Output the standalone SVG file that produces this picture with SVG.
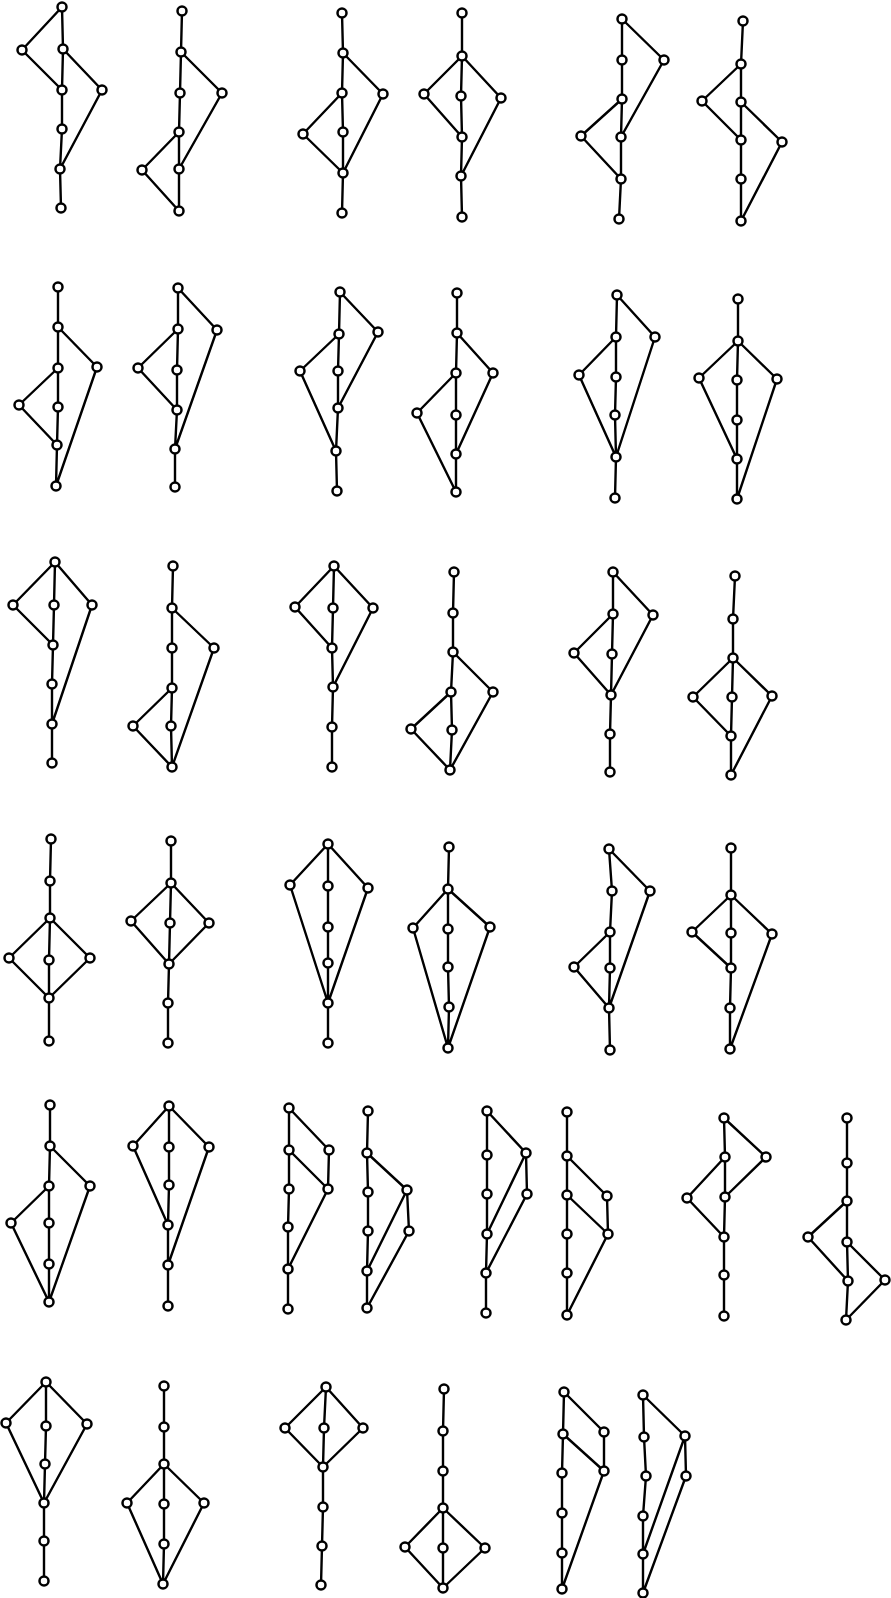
<svg xmlns="http://www.w3.org/2000/svg" width="891" height="1598" viewBox="0 0 891 1598">
<style>
.e{fill:none;stroke:#000;stroke-width:2.4;stroke-linejoin:round;stroke-linecap:round}
.nodes circle{fill:#fff;stroke:#000;stroke-width:2.5}
</style>
<rect width="891" height="1598" fill="#fff"/>
<g id="connectors" class="e">
<path d="M62,7L22,50L62,90 M62,7L63,49L62,90L62,129L60,169L61,208 M63,49L102,90L60,169"/>
<path d="M182,11L181,52L180,93L179,132L179,169L179,211 M181,52L222,93L179,169 M179,132L142,170L179,211"/>
<path d="M342,13L343,53L342,93L343,132L343,173L342,213 M343,53L383,94L343,173 M342,93L303,134L343,173"/>
<path d="M462,13L462,56L461,96L462,137L461,176L462,217 M462,56L424,94L462,137 M462,56L501,98L461,176"/>
<path d="M622,19L622,60L622,99L621,137L621,179L619,219 M622,19L664,60L621,137 M622,99L581,136L621,179"/>
<path d="M743,21L741,64L741,102L741,140L741,179L741,221 M741,64L702,101L741,140 M741,102L782,142L741,221"/>
<path d="M58,287L58,327L58,368L58,407L57,445L56,486 M58,327L97,367L56,486 M58,368L19,405L57,445"/>
<path d="M178,288L178,329L177,370L177,410L175,449L175,487 M178,288L217,330L175,449 M178,329L138,368L177,410"/>
<path d="M340,292L339,334L338,371L338,408L336,451L337,491 M340,292L378,332L338,408 M339,334L300,371L336,451"/>
<path d="M457,293L457,333L456,373L456,415L456,454L456,492 M457,333L493,373L456,454 M456,373L417,413L456,492"/>
<path d="M617,295L616,337L616,377L615,415L616,457L615,498 M617,295L655,337L616,457 M616,337L579,375L616,457"/>
<path d="M738,299L738,341L737,380L737,420L737,459L737,499 M738,341L699,378L737,459 M738,341L777,379L737,499"/>
<path d="M55,562L54,605L53,645L52,684L52,724L52,763 M55,562L13,605L53,645 M55,562L92,605L52,724"/>
<path d="M173,566L172,608L172,648L172,688L171,726L172,767 M172,608L214,648L172,767 M172,688L133,726L172,767"/>
<path d="M334,566L333,608L332,648L333,687L332,727L332,767 M334,566L295,607L332,648 M334,566L373,608L333,687"/>
<path d="M454,572L453,613L453,652L451,692L452,730L450,770 M453,652L493,692L450,770 M451,692L411,729L450,770"/>
<path d="M613,572L613,614L612,654L611,695L610,734L610,772 M613,572L653,615L611,695 M613,614L574,653L611,695"/>
<path d="M735,576L733,619L733,658L732,697L731,736L731,775 M733,658L693,697L731,736 M733,658L772,696L731,775"/>
<path d="M51,839L50,881L50,918L49,960L49,998L49,1041 M50,918L9,958L49,998 M50,918L90,958L49,998"/>
<path d="M171,841L171,883L170,923L169,964L168,1003L168,1043 M171,883L131,921L169,964 M171,883L209,923L169,964"/>
<path d="M328,844L328,886L328,927L328,963L328,1003L328,1043 M328,844L290,885L328,1003 M328,844L368,888L328,1003"/>
<path d="M449,847L448,889L448,929L448,967L449,1007L448,1048 M448,889L413,928L448,1048 M448,889L490,927L448,1048"/>
<path d="M609,849L612,891L610,932L610,968L609,1008L610,1050 M609,849L650,891L609,1008 M610,932L574,967L609,1008"/>
<path d="M731,848L731,895L731,933L731,968L730,1008L730,1049 M731,895L692,932L731,968 M731,895L772,934L730,1049"/>
<path d="M50,1105L50,1146L49,1186L49,1223L49,1264L49,1302 M50,1146L90,1186L49,1302 M49,1186L11,1223L49,1302"/>
<path d="M169,1106L169,1147L169,1185L168,1225L168,1265L168,1306 M169,1106L133,1146L168,1225 M169,1106L209,1147L168,1265"/>
<path d="M289,1108L289,1150L289,1189L288,1227L288,1269L288,1309 M289,1108L329,1150L328,1189L288,1269 M289,1150L328,1189"/>
<path d="M368,1111L367,1153L368,1192L368,1231L367,1271L367,1308 M367,1153L407,1190L409,1231L367,1308 M407,1190L367,1271"/>
<path d="M487,1111L487,1155L487,1194L487,1234L486,1273L486,1313 M487,1111L526,1153L527,1194L486,1273 M526,1153L487,1234"/>
<path d="M567,1112L567,1156L567,1195L567,1234L567,1273L567,1315 M567,1156L607,1196L608,1234L567,1315 M567,1195L608,1234"/>
<path d="M724,1118L725,1157L725,1197L724,1237L724,1275L724,1316 M724,1118L766,1157L725,1197 M725,1157L687,1198L724,1237"/>
<path d="M847,1118L847,1163L847,1201L847,1242L848,1281L846,1320 M847,1201L808,1237L848,1281 M847,1242L885,1280L846,1320"/>
<path d="M46,1382L46,1426L45,1464L44,1503L44,1541L44,1581 M46,1382L6,1423L44,1503 M46,1382L87,1424L44,1503"/>
<path d="M164,1386L164,1427L164,1464L164,1504L164,1544L163,1584 M164,1464L127,1503L163,1584 M164,1464L204,1503L163,1584"/>
<path d="M326,1387L324,1428L323,1467L323,1507L322,1546L321,1585 M326,1387L285,1428L323,1467 M326,1387L363,1428L323,1467"/>
<path d="M444,1389L443,1431L443,1471L443,1508L443,1548L443,1588 M443,1508L405,1547L443,1588 M443,1508L485,1548L443,1588"/>
<path d="M564,1392L563,1434L562,1473L562,1513L562,1553L562,1589 M564,1392L604,1432L604,1471L562,1589 M563,1434L604,1471"/>
<path d="M643,1395L644,1437L646,1476L643,1516L643,1554L643,1593 M643,1395L685,1436L686,1476L643,1593 M685,1436L643,1554"/>
</g>
<g class="nodes">
<g id="L1"><circle id="L1a" cx="62" cy="7" r="4.5"/><circle id="L1b" cx="22" cy="50" r="4.5"/><circle id="L1c" cx="63" cy="49" r="4.5"/><circle id="L1d" cx="62" cy="90" r="4.5"/><circle id="L1e" cx="102" cy="90" r="4.5"/><circle id="L1f" cx="62" cy="129" r="4.5"/><circle id="L1g" cx="60" cy="169" r="4.5"/><circle id="L1h" cx="61" cy="208" r="4.5"/></g>
<g id="L2"><circle id="L2a" cx="182" cy="11" r="4.5"/><circle id="L2b" cx="181" cy="52" r="4.5"/><circle id="L2c" cx="180" cy="93" r="4.5"/><circle id="L2d" cx="222" cy="93" r="4.5"/><circle id="L2e" cx="179" cy="132" r="4.5"/><circle id="L2f" cx="142" cy="170" r="4.5"/><circle id="L2g" cx="179" cy="169" r="4.5"/><circle id="L2h" cx="179" cy="211" r="4.5"/></g>
<g id="L3"><circle id="L3a" cx="342" cy="13" r="4.5"/><circle id="L3b" cx="343" cy="53" r="4.5"/><circle id="L3c" cx="342" cy="93" r="4.5"/><circle id="L3d" cx="383" cy="94" r="4.5"/><circle id="L3e" cx="303" cy="134" r="4.5"/><circle id="L3f" cx="343" cy="132" r="4.5"/><circle id="L3g" cx="343" cy="173" r="4.5"/><circle id="L3h" cx="342" cy="213" r="4.5"/></g>
<g id="L4"><circle id="L4a" cx="462" cy="13" r="4.5"/><circle id="L4b" cx="462" cy="56" r="4.5"/><circle id="L4c" cx="424" cy="94" r="4.5"/><circle id="L4d" cx="461" cy="96" r="4.5"/><circle id="L4e" cx="501" cy="98" r="4.5"/><circle id="L4f" cx="462" cy="137" r="4.5"/><circle id="L4g" cx="461" cy="176" r="4.5"/><circle id="L4h" cx="462" cy="217" r="4.5"/></g>
<g id="L5"><circle id="L5a" cx="622" cy="19" r="4.5"/><circle id="L5b" cx="622" cy="60" r="4.5"/><circle id="L5c" cx="664" cy="60" r="4.5"/><circle id="L5d" cx="622" cy="99" r="4.5"/><circle id="L5e" cx="581" cy="136" r="4.5"/><circle id="L5f" cx="621" cy="137" r="4.5"/><circle id="L5g" cx="621" cy="179" r="4.5"/><circle id="L5h" cx="619" cy="219" r="4.5"/></g>
<g id="L6"><circle id="L6a" cx="743" cy="21" r="4.5"/><circle id="L6b" cx="741" cy="64" r="4.5"/><circle id="L6c" cx="702" cy="101" r="4.5"/><circle id="L6d" cx="741" cy="102" r="4.5"/><circle id="L6e" cx="741" cy="140" r="4.5"/><circle id="L6f" cx="782" cy="142" r="4.5"/><circle id="L6g" cx="741" cy="179" r="4.5"/><circle id="L6h" cx="741" cy="221" r="4.5"/></g>
<g id="L7"><circle id="L7a" cx="58" cy="287" r="4.5"/><circle id="L7b" cx="58" cy="327" r="4.5"/><circle id="L7c" cx="58" cy="368" r="4.5"/><circle id="L7d" cx="97" cy="367" r="4.5"/><circle id="L7e" cx="19" cy="405" r="4.5"/><circle id="L7f" cx="58" cy="407" r="4.5"/><circle id="L7g" cx="57" cy="445" r="4.5"/><circle id="L7h" cx="56" cy="486" r="4.5"/></g>
<g id="L8"><circle id="L8a" cx="178" cy="288" r="4.5"/><circle id="L8b" cx="178" cy="329" r="4.5"/><circle id="L8c" cx="217" cy="330" r="4.5"/><circle id="L8d" cx="138" cy="368" r="4.5"/><circle id="L8e" cx="177" cy="370" r="4.5"/><circle id="L8f" cx="177" cy="410" r="4.5"/><circle id="L8g" cx="175" cy="449" r="4.5"/><circle id="L8h" cx="175" cy="487" r="4.5"/></g>
<g id="L9"><circle id="L9a" cx="340" cy="292" r="4.5"/><circle id="L9b" cx="339" cy="334" r="4.5"/><circle id="L9c" cx="378" cy="332" r="4.5"/><circle id="L9d" cx="300" cy="371" r="4.5"/><circle id="L9e" cx="338" cy="371" r="4.5"/><circle id="L9f" cx="338" cy="408" r="4.5"/><circle id="L9g" cx="336" cy="451" r="4.5"/><circle id="L9h" cx="337" cy="491" r="4.5"/></g>
<g id="L10"><circle id="L10a" cx="457" cy="293" r="4.5"/><circle id="L10b" cx="457" cy="333" r="4.5"/><circle id="L10c" cx="456" cy="373" r="4.5"/><circle id="L10d" cx="493" cy="373" r="4.5"/><circle id="L10e" cx="417" cy="413" r="4.5"/><circle id="L10f" cx="456" cy="415" r="4.5"/><circle id="L10g" cx="456" cy="454" r="4.5"/><circle id="L10h" cx="456" cy="492" r="4.5"/></g>
<g id="L11"><circle id="L11a" cx="617" cy="295" r="4.5"/><circle id="L11b" cx="616" cy="337" r="4.5"/><circle id="L11c" cx="655" cy="337" r="4.5"/><circle id="L11d" cx="579" cy="375" r="4.5"/><circle id="L11e" cx="616" cy="377" r="4.5"/><circle id="L11f" cx="615" cy="415" r="4.5"/><circle id="L11g" cx="616" cy="457" r="4.5"/><circle id="L11h" cx="615" cy="498" r="4.5"/></g>
<g id="L12"><circle id="L12a" cx="738" cy="299" r="4.5"/><circle id="L12b" cx="738" cy="341" r="4.5"/><circle id="L12c" cx="699" cy="378" r="4.5"/><circle id="L12d" cx="737" cy="380" r="4.5"/><circle id="L12e" cx="777" cy="379" r="4.5"/><circle id="L12f" cx="737" cy="420" r="4.5"/><circle id="L12g" cx="737" cy="459" r="4.5"/><circle id="L12h" cx="737" cy="499" r="4.5"/></g>
<g id="L13"><circle id="L13a" cx="55" cy="562" r="4.5"/><circle id="L13b" cx="13" cy="605" r="4.5"/><circle id="L13c" cx="54" cy="605" r="4.5"/><circle id="L13d" cx="92" cy="605" r="4.5"/><circle id="L13e" cx="53" cy="645" r="4.5"/><circle id="L13f" cx="52" cy="684" r="4.5"/><circle id="L13g" cx="52" cy="724" r="4.5"/><circle id="L13h" cx="52" cy="763" r="4.5"/></g>
<g id="L14"><circle id="L14a" cx="173" cy="566" r="4.5"/><circle id="L14b" cx="172" cy="608" r="4.5"/><circle id="L14c" cx="172" cy="648" r="4.5"/><circle id="L14d" cx="214" cy="648" r="4.5"/><circle id="L14e" cx="172" cy="688" r="4.5"/><circle id="L14f" cx="133" cy="726" r="4.5"/><circle id="L14g" cx="171" cy="726" r="4.5"/><circle id="L14h" cx="172" cy="767" r="4.5"/></g>
<g id="L15"><circle id="L15a" cx="334" cy="566" r="4.5"/><circle id="L15b" cx="295" cy="607" r="4.5"/><circle id="L15c" cx="333" cy="608" r="4.5"/><circle id="L15d" cx="373" cy="608" r="4.5"/><circle id="L15e" cx="332" cy="648" r="4.5"/><circle id="L15f" cx="333" cy="687" r="4.5"/><circle id="L15g" cx="332" cy="727" r="4.5"/><circle id="L15h" cx="332" cy="767" r="4.5"/></g>
<g id="L16"><circle id="L16a" cx="454" cy="572" r="4.5"/><circle id="L16b" cx="453" cy="613" r="4.5"/><circle id="L16c" cx="453" cy="652" r="4.5"/><circle id="L16d" cx="493" cy="692" r="4.5"/><circle id="L16e" cx="451" cy="692" r="4.5"/><circle id="L16f" cx="411" cy="729" r="4.5"/><circle id="L16g" cx="452" cy="730" r="4.5"/><circle id="L16h" cx="450" cy="770" r="4.5"/></g>
<g id="L17"><circle id="L17a" cx="613" cy="572" r="4.5"/><circle id="L17b" cx="613" cy="614" r="4.5"/><circle id="L17c" cx="653" cy="615" r="4.5"/><circle id="L17d" cx="574" cy="653" r="4.5"/><circle id="L17e" cx="612" cy="654" r="4.5"/><circle id="L17f" cx="611" cy="695" r="4.5"/><circle id="L17g" cx="610" cy="734" r="4.5"/><circle id="L17h" cx="610" cy="772" r="4.5"/></g>
<g id="L18"><circle id="L18a" cx="735" cy="576" r="4.5"/><circle id="L18b" cx="733" cy="619" r="4.5"/><circle id="L18c" cx="733" cy="658" r="4.5"/><circle id="L18d" cx="693" cy="697" r="4.5"/><circle id="L18e" cx="732" cy="697" r="4.5"/><circle id="L18f" cx="772" cy="696" r="4.5"/><circle id="L18g" cx="731" cy="736" r="4.5"/><circle id="L18h" cx="731" cy="775" r="4.5"/></g>
<g id="L19"><circle id="L19a" cx="51" cy="839" r="4.5"/><circle id="L19b" cx="50" cy="881" r="4.5"/><circle id="L19c" cx="50" cy="918" r="4.5"/><circle id="L19d" cx="9" cy="958" r="4.5"/><circle id="L19e" cx="49" cy="960" r="4.5"/><circle id="L19f" cx="90" cy="958" r="4.5"/><circle id="L19g" cx="49" cy="998" r="4.5"/><circle id="L19h" cx="49" cy="1041" r="4.5"/></g>
<g id="L20"><circle id="L20a" cx="171" cy="841" r="4.5"/><circle id="L20b" cx="171" cy="883" r="4.5"/><circle id="L20c" cx="131" cy="921" r="4.5"/><circle id="L20d" cx="170" cy="923" r="4.5"/><circle id="L20e" cx="209" cy="923" r="4.5"/><circle id="L20f" cx="169" cy="964" r="4.5"/><circle id="L20g" cx="168" cy="1003" r="4.5"/><circle id="L20h" cx="168" cy="1043" r="4.5"/></g>
<g id="L21"><circle id="L21a" cx="328" cy="844" r="4.5"/><circle id="L21b" cx="290" cy="885" r="4.5"/><circle id="L21c" cx="328" cy="886" r="4.5"/><circle id="L21d" cx="368" cy="888" r="4.5"/><circle id="L21e" cx="328" cy="927" r="4.5"/><circle id="L21f" cx="328" cy="963" r="4.5"/><circle id="L21g" cx="328" cy="1003" r="4.5"/><circle id="L21h" cx="328" cy="1043" r="4.5"/></g>
<g id="L22"><circle id="L22a" cx="449" cy="847" r="4.5"/><circle id="L22b" cx="448" cy="889" r="4.5"/><circle id="L22c" cx="413" cy="928" r="4.5"/><circle id="L22d" cx="448" cy="929" r="4.5"/><circle id="L22e" cx="490" cy="927" r="4.5"/><circle id="L22f" cx="448" cy="967" r="4.5"/><circle id="L22g" cx="449" cy="1007" r="4.5"/><circle id="L22h" cx="448" cy="1048" r="4.5"/></g>
<g id="L23"><circle id="L23a" cx="609" cy="849" r="4.5"/><circle id="L23b" cx="612" cy="891" r="4.5"/><circle id="L23c" cx="650" cy="891" r="4.5"/><circle id="L23d" cx="610" cy="932" r="4.5"/><circle id="L23e" cx="574" cy="967" r="4.5"/><circle id="L23f" cx="610" cy="968" r="4.5"/><circle id="L23g" cx="609" cy="1008" r="4.5"/><circle id="L23h" cx="610" cy="1050" r="4.5"/></g>
<g id="L24"><circle id="L24a" cx="731" cy="848" r="4.5"/><circle id="L24b" cx="731" cy="895" r="4.5"/><circle id="L24c" cx="692" cy="932" r="4.5"/><circle id="L24d" cx="731" cy="933" r="4.5"/><circle id="L24e" cx="772" cy="934" r="4.5"/><circle id="L24f" cx="731" cy="968" r="4.5"/><circle id="L24g" cx="730" cy="1008" r="4.5"/><circle id="L24h" cx="730" cy="1049" r="4.5"/></g>
<g id="L25"><circle id="L25a" cx="50" cy="1105" r="4.5"/><circle id="L25b" cx="50" cy="1146" r="4.5"/><circle id="L25c" cx="49" cy="1186" r="4.5"/><circle id="L25d" cx="90" cy="1186" r="4.5"/><circle id="L25e" cx="11" cy="1223" r="4.5"/><circle id="L25f" cx="49" cy="1223" r="4.5"/><circle id="L25g" cx="49" cy="1264" r="4.5"/><circle id="L25h" cx="49" cy="1302" r="4.5"/></g>
<g id="L26"><circle id="L26a" cx="169" cy="1106" r="4.5"/><circle id="L26b" cx="133" cy="1146" r="4.5"/><circle id="L26c" cx="169" cy="1147" r="4.5"/><circle id="L26d" cx="209" cy="1147" r="4.5"/><circle id="L26e" cx="169" cy="1185" r="4.5"/><circle id="L26f" cx="168" cy="1225" r="4.5"/><circle id="L26g" cx="168" cy="1265" r="4.5"/><circle id="L26h" cx="168" cy="1306" r="4.5"/></g>
<g id="L27"><circle id="L27a" cx="289" cy="1108" r="4.5"/><circle id="L27b" cx="289" cy="1150" r="4.5"/><circle id="L27c" cx="329" cy="1150" r="4.5"/><circle id="L27d" cx="289" cy="1189" r="4.5"/><circle id="L27e" cx="328" cy="1189" r="4.5"/><circle id="L27f" cx="288" cy="1227" r="4.5"/><circle id="L27g" cx="288" cy="1269" r="4.5"/><circle id="L27h" cx="288" cy="1309" r="4.5"/></g>
<g id="L28"><circle id="L28a" cx="368" cy="1111" r="4.5"/><circle id="L28b" cx="367" cy="1153" r="4.5"/><circle id="L28c" cx="368" cy="1192" r="4.5"/><circle id="L28d" cx="407" cy="1190" r="4.5"/><circle id="L28e" cx="368" cy="1231" r="4.5"/><circle id="L28f" cx="409" cy="1231" r="4.5"/><circle id="L28g" cx="367" cy="1271" r="4.5"/><circle id="L28h" cx="367" cy="1308" r="4.5"/></g>
<g id="L29"><circle id="L29a" cx="487" cy="1111" r="4.5"/><circle id="L29b" cx="487" cy="1155" r="4.5"/><circle id="L29c" cx="526" cy="1153" r="4.5"/><circle id="L29d" cx="487" cy="1194" r="4.5"/><circle id="L29e" cx="527" cy="1194" r="4.5"/><circle id="L29f" cx="487" cy="1234" r="4.5"/><circle id="L29g" cx="486" cy="1273" r="4.5"/><circle id="L29h" cx="486" cy="1313" r="4.5"/></g>
<g id="L30"><circle id="L30a" cx="567" cy="1112" r="4.5"/><circle id="L30b" cx="567" cy="1156" r="4.5"/><circle id="L30c" cx="567" cy="1195" r="4.5"/><circle id="L30d" cx="607" cy="1196" r="4.5"/><circle id="L30e" cx="567" cy="1234" r="4.5"/><circle id="L30f" cx="608" cy="1234" r="4.5"/><circle id="L30g" cx="567" cy="1273" r="4.5"/><circle id="L30h" cx="567" cy="1315" r="4.5"/></g>
<g id="L31"><circle id="L31a" cx="724" cy="1118" r="4.5"/><circle id="L31b" cx="725" cy="1157" r="4.5"/><circle id="L31c" cx="766" cy="1157" r="4.5"/><circle id="L31d" cx="687" cy="1198" r="4.5"/><circle id="L31e" cx="725" cy="1197" r="4.5"/><circle id="L31f" cx="724" cy="1237" r="4.5"/><circle id="L31g" cx="724" cy="1275" r="4.5"/><circle id="L31h" cx="724" cy="1316" r="4.5"/></g>
<g id="L32"><circle id="L32a" cx="847" cy="1118" r="4.5"/><circle id="L32b" cx="847" cy="1163" r="4.5"/><circle id="L32c" cx="847" cy="1201" r="4.5"/><circle id="L32d" cx="808" cy="1237" r="4.5"/><circle id="L32e" cx="847" cy="1242" r="4.5"/><circle id="L32f" cx="848" cy="1281" r="4.5"/><circle id="L32g" cx="885" cy="1280" r="4.5"/><circle id="L32h" cx="846" cy="1320" r="4.5"/></g>
<g id="L33"><circle id="L33a" cx="46" cy="1382" r="4.5"/><circle id="L33b" cx="6" cy="1423" r="4.5"/><circle id="L33c" cx="46" cy="1426" r="4.5"/><circle id="L33d" cx="87" cy="1424" r="4.5"/><circle id="L33e" cx="45" cy="1464" r="4.5"/><circle id="L33f" cx="44" cy="1503" r="4.5"/><circle id="L33g" cx="44" cy="1541" r="4.5"/><circle id="L33h" cx="44" cy="1581" r="4.5"/></g>
<g id="L34"><circle id="L34a" cx="164" cy="1386" r="4.5"/><circle id="L34b" cx="164" cy="1427" r="4.5"/><circle id="L34c" cx="164" cy="1464" r="4.5"/><circle id="L34d" cx="127" cy="1503" r="4.5"/><circle id="L34e" cx="164" cy="1504" r="4.5"/><circle id="L34f" cx="204" cy="1503" r="4.5"/><circle id="L34g" cx="164" cy="1544" r="4.5"/><circle id="L34h" cx="163" cy="1584" r="4.5"/></g>
<g id="L35"><circle id="L35a" cx="326" cy="1387" r="4.5"/><circle id="L35b" cx="285" cy="1428" r="4.5"/><circle id="L35c" cx="324" cy="1428" r="4.5"/><circle id="L35d" cx="363" cy="1428" r="4.5"/><circle id="L35e" cx="323" cy="1467" r="4.5"/><circle id="L35f" cx="323" cy="1507" r="4.5"/><circle id="L35g" cx="322" cy="1546" r="4.5"/><circle id="L35h" cx="321" cy="1585" r="4.5"/></g>
<g id="L36"><circle id="L36a" cx="444" cy="1389" r="4.5"/><circle id="L36b" cx="443" cy="1431" r="4.5"/><circle id="L36c" cx="443" cy="1471" r="4.5"/><circle id="L36d" cx="443" cy="1508" r="4.5"/><circle id="L36e" cx="405" cy="1547" r="4.5"/><circle id="L36f" cx="443" cy="1548" r="4.5"/><circle id="L36g" cx="485" cy="1548" r="4.5"/><circle id="L36h" cx="443" cy="1588" r="4.5"/></g>
<g id="L37"><circle id="L37a" cx="564" cy="1392" r="4.5"/><circle id="L37b" cx="563" cy="1434" r="4.5"/><circle id="L37c" cx="604" cy="1432" r="4.5"/><circle id="L37d" cx="562" cy="1473" r="4.5"/><circle id="L37e" cx="604" cy="1471" r="4.5"/><circle id="L37f" cx="562" cy="1513" r="4.5"/><circle id="L37g" cx="562" cy="1553" r="4.5"/><circle id="L37h" cx="562" cy="1589" r="4.5"/></g>
<g id="L38"><circle id="L38a" cx="643" cy="1395" r="4.5"/><circle id="L38b" cx="644" cy="1437" r="4.5"/><circle id="L38c" cx="685" cy="1436" r="4.5"/><circle id="L38d" cx="646" cy="1476" r="4.5"/><circle id="L38e" cx="686" cy="1476" r="4.5"/><circle id="L38f" cx="643" cy="1516" r="4.5"/><circle id="L38g" cx="643" cy="1554" r="4.5"/><circle id="L38h" cx="643" cy="1593" r="4.5"/></g>
</g>
</svg>
